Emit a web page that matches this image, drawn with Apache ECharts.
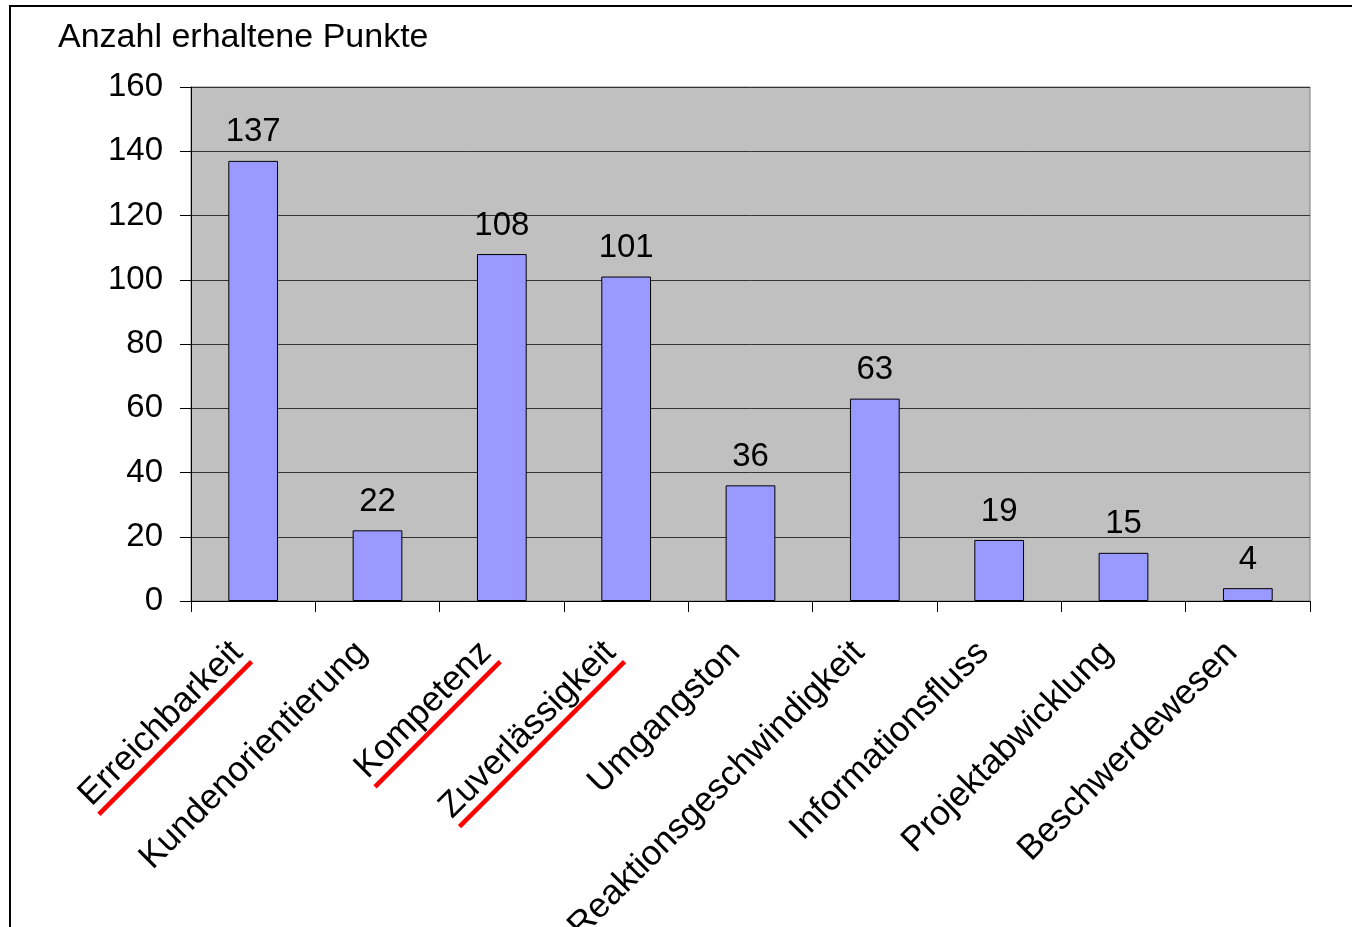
<!DOCTYPE html>
<html>
<head>
<meta charset="utf-8">
<script src="https://cdn.jsdelivr.net/npm/echarts@6/dist/echarts.min.js"></script>
<style>
html,body{margin:0;padding:0;background:#fff;}
#c{width:1352px;height:927px;}
</style>
</head>
<body>
<div id="c"></div>
<script>
const categories = ['Erreichbarkeit','Kundenorientierung','Kompetenz','Zuverlässigkeit','Umgangston','Reaktionsgeschwindigkeit','Informationsfluss','Projektabwicklung','Beschwerdewesen'];
const values = [137, 22, 108, 101, 36, 63, 19, 15, 4];
const underlined = ['Erreichbarkeit','Kompetenz','Zuverlässigkeit'];
const yTicks = {min: 0, max: 160, interval: 20};
const titleText = 'Anzahl erhaltene Punkte';

const FONT = '"Liberation Sans", Arial, sans-serif';

// underline image: red stripe at the bottom of the label box
const LH = 38, PB = 5;
const ul = document.createElement('canvas');
ul.width = 8; ul.height = LH + PB;
const cx = ul.getContext('2d');
cx.fillStyle = '#ff0000';
cx.fillRect(0, LH + PB - 5, 8, 5);

const chart = echarts.init(document.getElementById('c'), null, {renderer: 'canvas'});
chart.setOption({
  backgroundColor: '#ffffff',
  animation: false,
  title: {
    text: titleText,
    left: 58, top: 21, padding: 0,
    textStyle: {fontFamily: FONT, fontSize: 34, fontWeight: 'normal', color: '#000'}
  },
  graphic: [{
    type: 'rect', shape: {x: 10, y: 6, width: 1400, height: 1000},
    style: {fill: null, stroke: '#000', lineWidth: 2}, silent: true, z: 100
  }],
  grid: {
    left: 191, right: 42, top: 87, bottom: 326,
    outerBoundsMode: 'none', containLabel: false,
    show: true, backgroundColor: '#C0C0C0', borderColor: '#808080', borderWidth: 1
  },
  xAxis: {
    type: 'category',
    data: categories,
    boundaryGap: true,
    axisLine: {lineStyle: {color: '#000', width: 1}},
    axisTick: {show: true, alignWithLabel: false, length: 11, lineStyle: {color: '#000'}},
    axisLabel: {
      rotate: 45, margin: 34, color: '#000', interval: 0, hideOverlap: false,
      formatter: function (v) {
        return (underlined.indexOf(v) >= 0 ? '{u|' + v + '}' : '{n|' + v + '}') + '{s| }';
      },
      rich: {
        u: {fontFamily: FONT, fontSize: 35, lineHeight: LH, color: '#000', padding: [0, 0, PB, 0], backgroundColor: {image: ul}},
        n: {fontFamily: FONT, fontSize: 35, lineHeight: LH, color: '#000', padding: [0, 0, PB, 0]},
        s: {fontFamily: FONT, fontSize: 35, lineHeight: LH, width: 20, padding: [0, 0, PB, 0]}
      }
    }
  },
  yAxis: {
    type: 'value',
    min: yTicks.min, max: yTicks.max, interval: yTicks.interval,
    axisLine: {show: true, lineStyle: {color: '#000', width: 1}},
    axisTick: {show: true, length: 11, lineStyle: {color: '#000'}},
    axisLabel: {margin: 28, fontFamily: FONT, fontSize: 33, color: '#000'},
    splitLine: {show: true, lineStyle: {color: '#333', width: 1}}
  },
  series: [{
    type: 'bar',
    data: values,
    barWidth: '40%',
    itemStyle: {color: '#9999FF', borderColor: '#000', borderWidth: 1},
    label: {show: true, position: 'top', distance: 12, fontFamily: FONT, fontSize: 33, color: '#000'}
  }]
});
</script>
</body>
</html>
